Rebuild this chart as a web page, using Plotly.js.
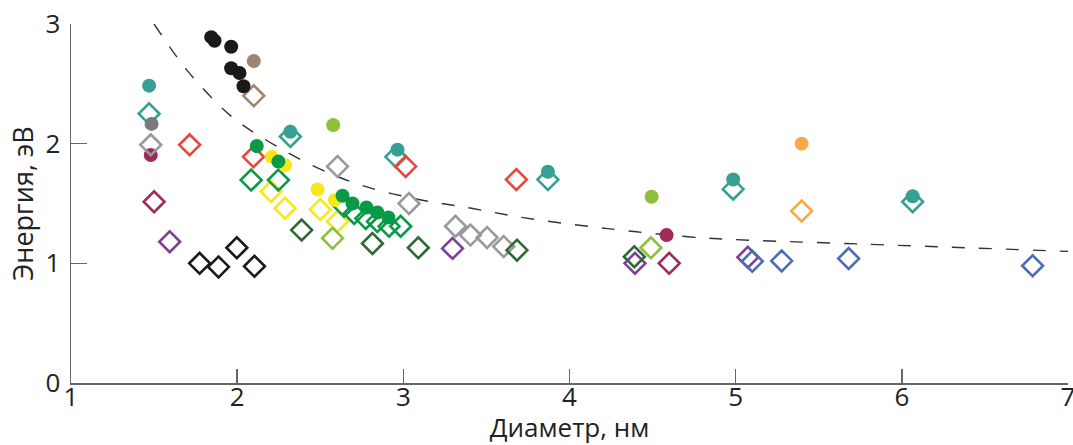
<!DOCTYPE html>
<html>
<head>
<meta charset="utf-8">
<script src="https://cdn.plot.ly/plotly-3.0.1.min.js"></script>
<style>html,body{margin:0;padding:0;background:#fff;}#chart{width:1073px;height:445px;}</style>
</head>
<body>
<div id="chart"></div>
<script>
// Fitted trend curve
const curveX = [1.5, 1.7, 1.9, 2.0, 2.15, 2.45, 2.73, 3.07, 3.41, 3.73, 4.23, 4.73, 4.97, 5.78, 7.0];
const curveY = [3.0, 2.61, 2.31, 2.19, 2.05, 1.82, 1.66, 1.54, 1.46, 1.38, 1.29, 1.22, 1.20, 1.16, 1.10];

// Filled circles
const blackCircX = [1.844, 1.864, 1.964, 1.964, 2.014, 2.038];
const blackCircY = [2.89, 2.86, 2.81, 2.63, 2.59, 2.48];
const brownCircX = [2.10];
const brownCircY = [2.69];
const tealCircX = [1.47, 2.32, 2.965, 3.87, 4.985, 6.065];
const tealCircY = [2.485, 2.10, 1.95, 1.765, 1.70, 1.56];
const grayCircX = [1.485];
const grayCircY = [2.165];
const crimsonCircX = [1.48, 4.584];
const crimsonCircY = [1.905, 1.236];
const greenCircX = [2.118, 2.248, 2.634, 2.694, 2.778, 2.844, 2.91];
const greenCircY = [1.98, 1.85, 1.565, 1.50, 1.467, 1.425, 1.383];
const yellowCircX = [2.208, 2.288, 2.484, 2.588];
const yellowCircY = [1.89, 1.82, 1.617, 1.53];
const limeCircX = [2.578, 4.494];
const limeCircY = [2.155, 1.556];
const orangeCircX = [5.397];
const orangeCircY = [2.0];

// Open diamonds
const blackDiaX = [1.774, 1.888, 1.998, 2.104];
const blackDiaY = [1.0, 0.97, 1.13, 0.975];
const brownDiaX = [2.10];
const brownDiaY = [2.40];
const tealDiaX = [1.47, 2.32, 2.955, 3.87, 4.985, 6.065];
const tealDiaY = [2.25, 2.06, 1.89, 1.70, 1.62, 1.515];
const grayDiaX = [1.48, 2.604, 3.034, 3.314, 3.404, 3.504, 3.604];
const grayDiaY = [1.99, 1.81, 1.50, 1.31, 1.236, 1.216, 1.14];
const crimsonDiaX = [1.5, 4.60];
const crimsonDiaY = [1.515, 1.0];
const redDiaX = [1.714, 2.098, 3.014, 3.68];
const redDiaY = [1.99, 1.89, 1.81, 1.70];
const purpleDiaX = [1.594, 3.296, 4.394, 5.073];
const purpleDiaY = [1.18, 1.125, 1.0, 1.05];
const greenDiaX = [2.084, 2.248, 2.644, 2.704, 2.774, 2.844, 2.914, 2.984];
const greenDiaY = [1.696, 1.696, 1.476, 1.417, 1.375, 1.35, 1.31, 1.31];
const yellowDiaX = [2.204, 2.288, 2.50, 2.604];
const yellowDiaY = [1.60, 1.46, 1.45, 1.35];
const limeDiaX = [2.574, 4.49];
const limeDiaY = [1.21, 1.13];
const forestDiaX = [2.388, 2.814, 3.09, 3.684, 4.39];
const forestDiaY = [1.278, 1.166, 1.13, 1.11, 1.055];
const orangeDiaX = [5.397];
const orangeDiaY = [1.437];
const blueDiaX = [5.10, 5.277, 5.68, 6.787];
const blueDiaY = [1.017, 1.02, 1.04, 0.98];

// Tick labels
const xTicks = [1, 2, 3, 4, 5, 6, 7];
const yTicks = [0, 1, 2, 3];

const COL = {
  black: '#1a1a1a', brown: '#a08472', teal: '#35a093', gray: '#7a7a7a', grayLight: '#9a9a9a',
  crimson: '#9e2b58', red: '#e8473a', purple: '#7e3f98', green: '#0a9a47', yellow: '#f8e71c',
  lime: '#8dbf3c', forest: '#2f6a36', orange: '#f9a846', blue: '#4a6db3'
};

function circ(x, y, c) {
  return {x: x, y: y, type: 'scatter', mode: 'markers', hoverinfo: 'x+y', cliponaxis: false,
    marker: {symbol: 'circle', size: 14, color: c, line: {width: 0}}};
}
function dia(x, y, c) {
  return {x: x, y: y, type: 'scatter', mode: 'markers', hoverinfo: 'x+y', cliponaxis: false,
    marker: {symbol: 'diamond-open', size: 16, color: c, line: {width: 2.6, color: c}}};
}

const traces = [
  {x: curveX, y: curveY, type: 'scatter', mode: 'lines', hoverinfo: 'skip',
   line: {color: '#333', width: 1.4, dash: '13px,14px', shape: 'spline', smoothing: 1}},
  circ(crimsonCircX, crimsonCircY, COL.crimson),
  dia(blackDiaX, blackDiaY, COL.black),
  dia(brownDiaX, brownDiaY, COL.brown),
  dia(tealDiaX, tealDiaY, COL.teal),
  dia(grayDiaX, grayDiaY, COL.grayLight),
  dia(crimsonDiaX, crimsonDiaY, COL.crimson),
  dia(redDiaX, redDiaY, COL.red),
  dia(purpleDiaX, purpleDiaY, COL.purple),
  dia(yellowDiaX, yellowDiaY, COL.yellow),
  dia(limeDiaX, limeDiaY, COL.lime),
  dia(forestDiaX, forestDiaY, COL.forest),
  dia(greenDiaX, greenDiaY, COL.green),
  dia(orangeDiaX, orangeDiaY, COL.orange),
  dia(blueDiaX, blueDiaY, COL.blue),
  circ(blackCircX, blackCircY, COL.black),
  circ(brownCircX, brownCircY, COL.brown),
  circ(tealCircX, tealCircY, COL.teal),
  circ(grayCircX, grayCircY, COL.gray),
  circ(yellowCircX, yellowCircY, COL.yellow),
  circ(greenCircX, greenCircY, COL.green),
  circ(limeCircX, limeCircY, COL.lime),
  circ(orangeCircX, orangeCircY, COL.orange)
];

const FONT = '"Open Sans", "Noto Sans", sans-serif';
const layout = {
  width: 1073, height: 445,
  margin: {l: 71, r: 5, t: 24, b: 62, pad: 0},
  paper_bgcolor: '#ffffff', plot_bgcolor: '#ffffff',
  showlegend: false,
  font: {family: FONT, color: '#222', size: 26},
  xaxis: {
    range: [1, 7], tickvals: xTicks, ticktext: xTicks.map(String),
    showgrid: false, zeroline: false, showline: true, linecolor: '#666', linewidth: 1.5,
    ticks: 'inside', ticklen: 14, tickwidth: 1.5, tickcolor: '#666',
    ticklabelstandoff: -10, ticklabeloverflow: 'allow',
    tickfont: {family: FONT, size: 26, color: '#222'},
    title: {text: 'Диаметр, нм', font: {family: FONT, size: 26, color: '#222'}, standoff: 2},
    automargin: false
  },
  yaxis: {
    range: [0, 3], tickvals: yTicks, ticktext: yTicks.map(String),
    showgrid: false, zeroline: false, showline: true, linecolor: '#666', linewidth: 1.5,
    ticks: 'inside', ticklen: 16, tickwidth: 1.5, tickcolor: '#666',
    ticklabelstandoff: 4, ticklabeloverflow: 'allow',
    tickfont: {family: FONT, size: 26, color: '#222'},
    title: {text: 'Энергия, эВ', font: {family: FONT, size: 27, color: '#222'}, standoff: 4},
    automargin: false
  }
};

Plotly.newPlot('chart', traces, layout, {displayModeBar: false, staticPlot: true});
</script>
</body>
</html>
